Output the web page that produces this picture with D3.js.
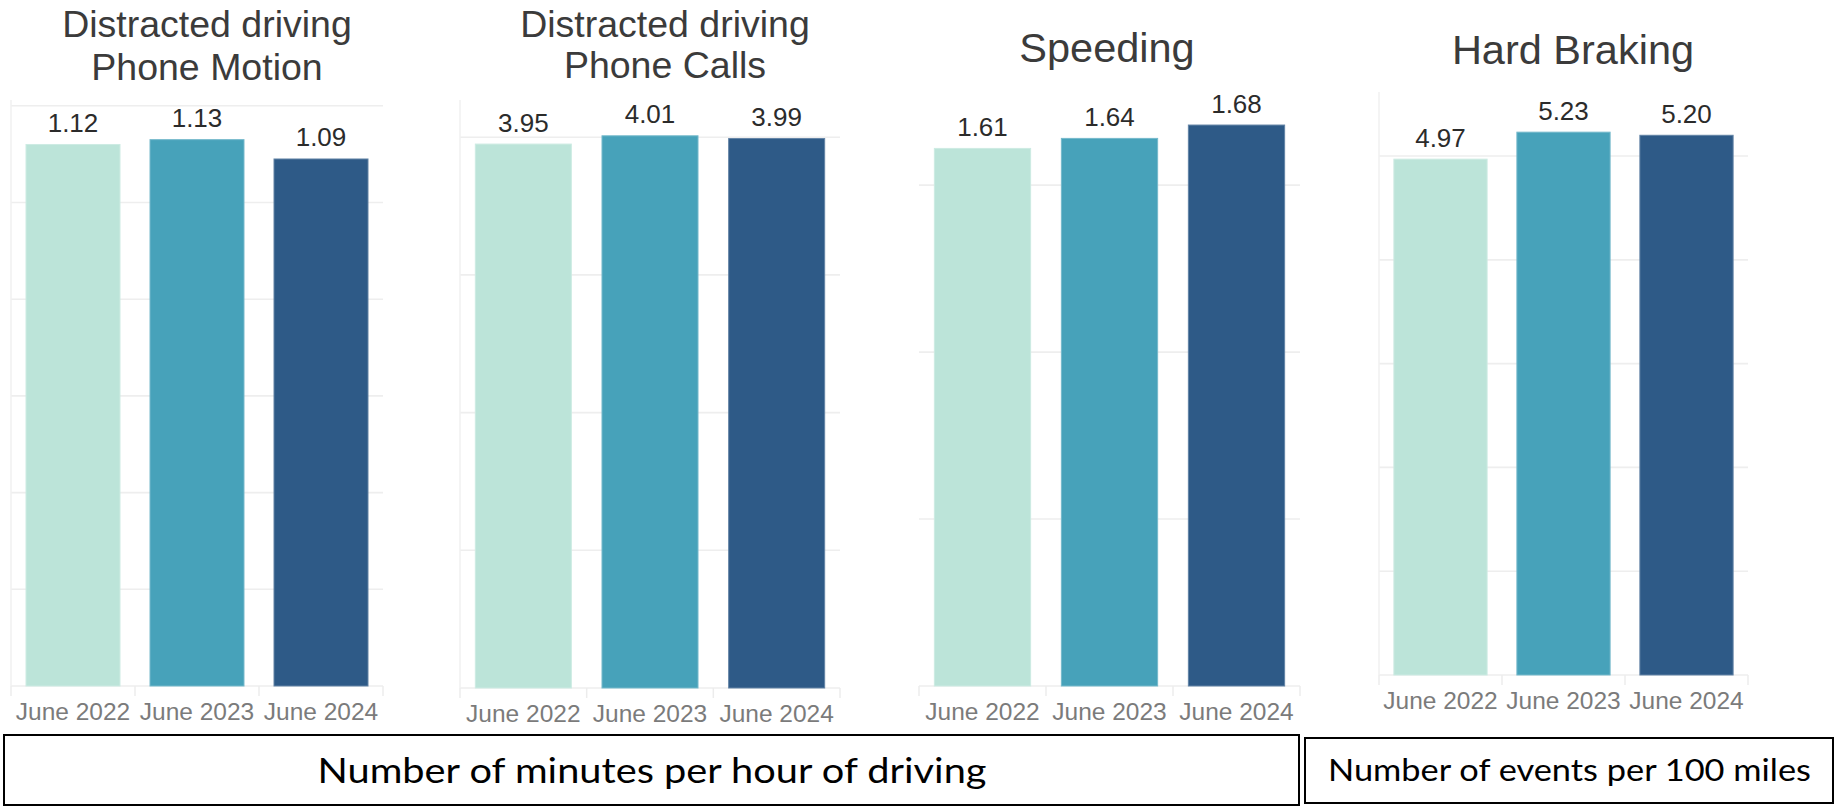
<!DOCTYPE html>
<html>
<head>
<meta charset="utf-8">
<script src="https://cdn.jsdelivr.net/npm/d3@7"></script>
<style>
  html, body { margin: 0; padding: 0; background: #ffffff; }
  svg { display: block; }
</style>
</head>
<body>
<svg id="chart" width="1835" height="806"></svg>
<script>
// ---- data ----
const months = ["June 2022", "June 2023", "June 2024"];
const phoneMotion = [1.12, 1.13, 1.09];
const phoneCalls = [3.95, 4.01, 3.99];
const speeding = [1.61, 1.64, 1.68];
const hardBraking = [4.97, 5.23, 5.20];

const titleMotion = ["Distracted driving", "Phone Motion"];
const titleCalls = ["Distracted driving", "Phone Calls"];
const titleSpeeding = ["Speeding"];
const titleBraking = ["Hard Braking"];

const gridMotion = [0, 0.2, 0.4, 0.6, 0.8, 1.0, 1.2];
const gridCalls = [0, 1, 2, 3, 4];
const gridSpeeding = [0, 0.5, 1.0, 1.5];
const gridBraking = [0, 1, 2, 3, 4, 5];

const unitMinutes = "Number of minutes per hour of driving";
const unitEvents = "Number of events per 100 miles";

const barColors = ["#bce4d9", "#47a2ba", "#2e5a87"];

// ---- layout of the four small panels ----
const panels = [
  { values: phoneMotion, title: titleMotion, grid: gridMotion, x0: 11, x1: 383, base: 686, top: 100, yMax: 1.212,
    titleX: 207, titleY: [37, 80], titleSize: 37.5, leftLine: true },
  { values: phoneCalls, title: titleCalls, grid: gridCalls, x0: 460, x1: 840, base: 688, top: 100, yMax: 4.27,
    titleX: 665, titleY: [37, 78], titleSize: 37.5, leftLine: true },
  { values: speeding, title: titleSpeeding, grid: gridSpeeding, x0: 919, x1: 1300, base: 686, top: 100, yMax: 1.755,
    titleX: 1107, titleY: [62], titleSize: 41.5, leftLine: false },
  { values: hardBraking, title: titleBraking, grid: gridBraking, x0: 1379, x1: 1748, base: 675, top: 92, yMax: 5.617,
    titleX: 1573, titleY: [64], titleSize: 41.5, leftLine: true }
];

const svg = d3.select("#chart");
const gridColor = "#eeeeee";

panels.forEach(p => {
  const g = svg.append("g");
  const x = d3.scaleBand().domain(months).range([p.x0, p.x1]).padding(0);
  const y = d3.scaleLinear().domain([0, p.yMax]).range([p.base, p.top]);
  const bw = x.bandwidth();

  // horizontal gridlines
  g.selectAll("line.grid").data(p.grid).join("line")
    .attr("class", "grid")
    .attr("x1", p.x0).attr("x2", p.x1)
    .attr("y1", d => y(d)).attr("y2", d => y(d))
    .attr("stroke", gridColor).attr("stroke-width", 1.6);

  // left axis rule
  if (p.leftLine) {
    g.append("line")
      .attr("x1", p.x0).attr("x2", p.x0)
      .attr("y1", y(p.yMax)).attr("y2", y(0))
      .attr("stroke", "#f1f1f1").attr("stroke-width", 1.5);
  }

  // category separators under the baseline
  const seps = months.map(m => x(m)).concat([p.x1]);
  g.selectAll("line.sep").data(seps).join("line")
    .attr("class", "sep")
    .attr("x1", d => d).attr("x2", d => d)
    .attr("y1", y(0)).attr("y2", y(0) + 10)
    .attr("stroke", "#ececec").attr("stroke-width", 1.5);

  // bars
  g.selectAll("rect.bar").data(p.values).join("rect")
    .attr("class", "bar")
    .attr("x", (d, i) => x(months[i]) + bw * 0.121)
    .attr("width", bw * 0.758)
    .attr("y", d => y(d))
    .attr("height", d => y(0) - y(d))
    .attr("fill", (d, i) => barColors[i])
    .attr("stroke", (d, i) => d3.interpolateRgb(barColors[i], "#ffffff")(0.25))
    .attr("stroke-width", 1);

  // value labels
  g.selectAll("text.val").data(p.values).join("text")
    .attr("class", "val")
    .attr("x", (d, i) => x(months[i]) + bw / 2)
    .attr("y", d => y(d) - 12.5)
    .attr("text-anchor", "middle")
    .attr("font-family", "'Liberation Sans', Arial, sans-serif")
    .attr("font-size", 26)
    .attr("fill", "#2b2b2b")
    .text(d => d3.format(".2f")(d));

  // category labels
  g.selectAll("text.cat").data(months).join("text")
    .attr("class", "cat")
    .attr("x", d => x(d) + bw / 2)
    .attr("y", y(0) + 34)
    .attr("text-anchor", "middle")
    .attr("font-family", "'Liberation Sans', Arial, sans-serif")
    .attr("font-size", 24.5)
    .attr("fill", "#7b7b7b")
    .text(d => d);

  // panel title
  g.selectAll("text.title").data(p.title).join("text")
    .attr("class", "title")
    .attr("x", p.titleX)
    .attr("y", (d, i) => p.titleY[i])
    .attr("text-anchor", "middle")
    .attr("font-family", "'Liberation Sans', Arial, sans-serif")
    .attr("font-size", p.titleSize)
    .attr("fill", "#3b3b3b")
    .text(d => d);
});

// ---- unit captions in framed boxes ----
const boxes = [
  { text: unitMinutes, x: 4, y: 735, w: 1295, h: 70, tx: 652, ty: 783, tw: 669, size: 34 },
  { text: unitEvents, x: 1305, y: 738, w: 528, h: 65, tx: 1569.5, ty: 781, tw: 483, size: 31 }
];

boxes.forEach(b => {
  svg.append("rect")
    .attr("x", b.x).attr("y", b.y).attr("width", b.w).attr("height", b.h)
    .attr("fill", "none").attr("stroke", "#000000").attr("stroke-width", 2);
  const t = svg.append("text")
    .attr("x", b.tx).attr("y", b.ty)
    .attr("text-anchor", "middle")
    .attr("font-family", "Lato, 'Open Sans', sans-serif")
    .attr("font-size", b.size)
    .attr("fill", "#000000")
    .text(b.text);
  t.attr("textLength", b.tw).attr("lengthAdjust", "spacingAndGlyphs");
});
</script>
</body>
</html>
